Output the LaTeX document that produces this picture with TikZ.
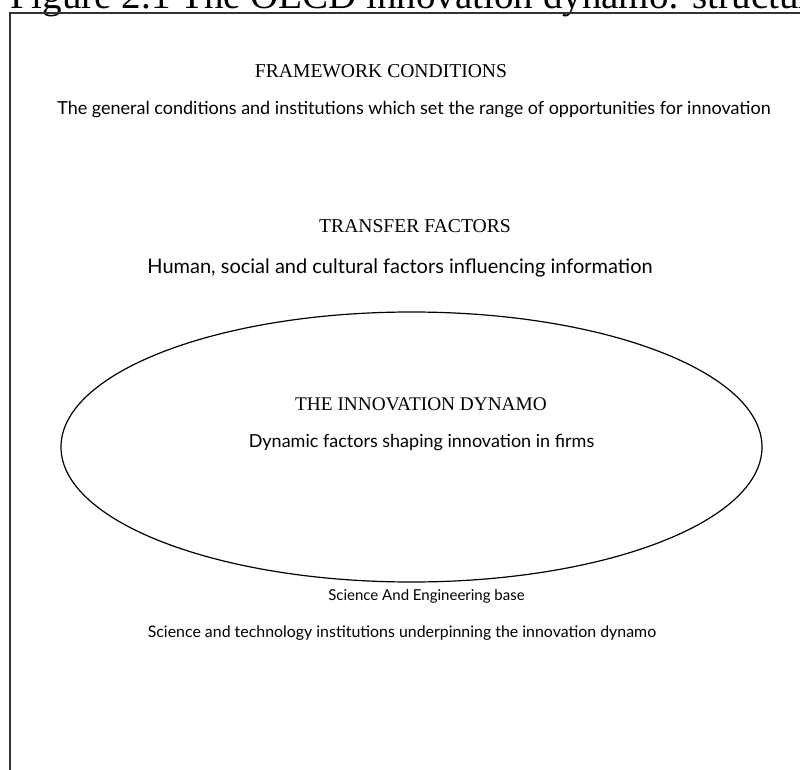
\documentclass[tikz,border=0pt]{standalone}
\usepackage{fontspec}
\setmainfont{Liberation Serif}
\newfontfamily\captionfont{Lato}
\usetikzlibrary{shapes.geometric, positioning}

\begin{document}
\begin{tikzpicture}[
                x=1pt, y=-1pt,
                headline/.style={anchor=base, inner sep=0pt, font=\fontsize{19.6}{22}\selectfont},
                subline/.style={anchor=base, inner sep=0pt, font=\captionfont\fontsize{18}{21}\selectfont},
                smallline/.style={anchor=base, inner sep=0pt, font=\captionfont\fontsize{15.9}{18}\selectfont}
            ]
                \useasboundingbox (0,0) rectangle (800,770);
                \clip (0,0) rectangle (800,770);

                % caption, cut by the page edge
                \node[anchor=base west, inner sep=0pt, font=\fontsize{39}{44}\selectfont] (title) at (10,8.5) {Figure 2.1 The OECD innovation dynamo: structure};

                % frame
                \draw[line width=2pt, black!80] (10,790) |- (815,13);

                \node[headline] (framework) at (381,78) {FRAMEWORK CONDITIONS};
                \node[subline] (frameworktxt) at (414,115) {The general conditions and institutions which set the range of opportunities for innovation};

                \node[headline] (transfer) at (415,232) {TRANSFER FACTORS};
                \node[subline, font=\captionfont\fontsize{20}{23}\selectfont] (transfertxt) at (400,273) {Human, social and cultural factors influencing information};

                \node[draw, ellipse, line width=1.2pt, minimum width=701pt, minimum height=270pt] (dynamo) at (411.5,447) {};
                \node[headline, font=\fontsize{19.3}{22}\selectfont] (dynamohead) at (421,410) {THE INNOVATION DYNAMO};
                \node[subline] (dynamotxt) at (421.5,447) {Dynamic factors shaping innovation in firms};

                \node[smallline, font=\captionfont\fontsize{15}{18}\selectfont] (science) at (426.5,600) {Science And Engineering base};
                \node[smallline] (sciencetxt) at (402,637) {Science and technology institutions underpinning the innovation dynamo};
            \end{tikzpicture}
\end{document}
